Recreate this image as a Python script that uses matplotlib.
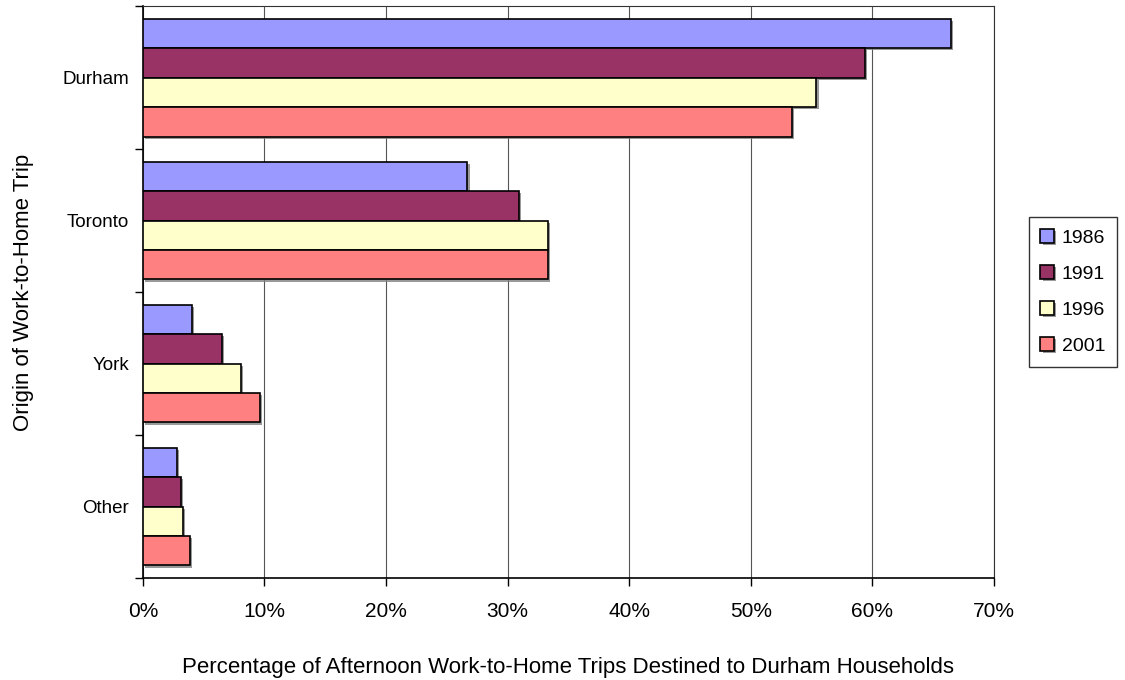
import matplotlib
matplotlib.use('Agg')
import matplotlib.pyplot as plt
import matplotlib.patheffects as pe
import numpy as np
from matplotlib.ticker import PercentFormatter

# Data (percent)
origins = ['Durham', 'Toronto', 'York', 'Other']
years = ['1986', '1991', '1996', '2001']
v1986 = [66.5, 26.7, 4.0, 2.8]
v1991 = [59.4, 30.9, 6.5, 3.1]
v1996 = [55.4, 33.3, 8.1, 3.3]
v2001 = [53.4, 33.3, 9.6, 3.9]
colors = ['#9999FF', '#993366', '#FFFFCC', '#FF8080']

series = [v1986, v1991, v1996, v2001]

plt.rcParams['font.family'] = ['Liberation Sans', 'DejaVu Sans']

fig = plt.figure(figsize=(11.25, 6.8), dpi=100)
ax = fig.add_axes([0.127, 0.15, 0.7565, 0.841])

y = np.arange(len(origins))
h = 0.206
shadow = [pe.SimplePatchShadow(offset=(1.5, -1.5), shadow_rgbFace='#808080', alpha=0.8), pe.Normal()]
for i, (vals, col, yr) in enumerate(zip(series, colors, years)):
    bars = ax.barh(y + (i - 1.5) * h, vals, height=h, color=col,
                   edgecolor='black', linewidth=1.2, label=yr, zorder=3)
    for b in bars:
        b.set_path_effects(shadow)

ax.set_xlim(0, 70)
ax.set_ylim(3.5, -0.5)
ax.set_xticks(np.arange(0, 71, 10))
ax.xaxis.set_major_formatter(PercentFormatter(decimals=0))
ax.grid(axis='x', color='#555555', linewidth=0.8, zorder=0)
ax.tick_params(axis='x', direction='out', length=6, width=1, labelsize=15, pad=11)

ax.set_yticks(y)
ax.set_yticklabels(origins, fontsize=13.5)
ax.tick_params(axis='y', which='major', length=0, pad=10)
ax.set_yticks(np.arange(-0.5, 3.6, 1), minor=True)
ax.tick_params(axis='y', which='minor', direction='out', length=6, width=1)

for s in ['left', 'bottom']:
    ax.spines[s].set_linewidth(1.2)
for s in ['top', 'right']:
    ax.spines[s].set_linewidth(0.8)
    ax.spines[s].set_color('#333333')

ax.set_xlabel('Percentage of Afternoon Work-to-Home Trips Destined to Durham Households',
              fontsize=16, labelpad=26)
ax.set_ylabel('Origin of Work-to-Home Trip', fontsize=16, labelpad=20)

leg = ax.legend(loc='center left', bbox_to_anchor=(1.041, 0.5), fontsize=14,
                frameon=True, fancybox=False, edgecolor='black',
                handlelength=0.7, handleheight=0.7, handletextpad=0.4,
                labelspacing=0.95, borderpad=0.6, borderaxespad=0)
leg.get_frame().set_linewidth(1)

fig.savefig('out.png', dpi=100)
